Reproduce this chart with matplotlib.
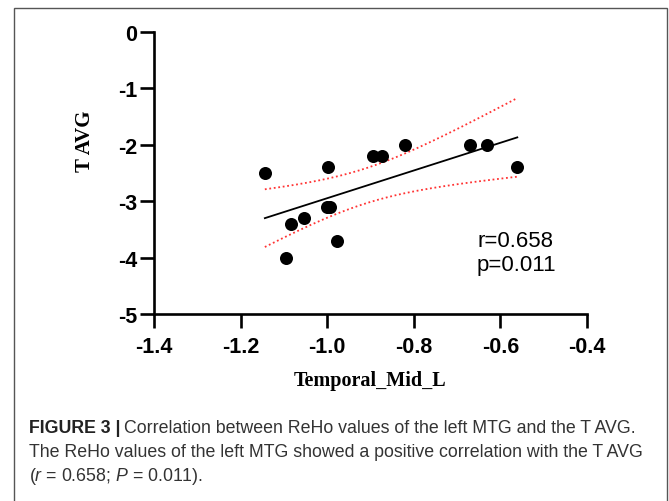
import numpy as np
import matplotlib
matplotlib.use("Agg")
import matplotlib.pyplot as plt
from matplotlib.patches import Rectangle

# ---- data ----
temporal_mid_l = [-1.144, -1.094, -1.084, -1.053, -1.001, -0.999, -0.993,
                  -0.977, -0.895, -0.874, -0.820, -0.670, -0.632, -0.561]
t_avg = [-2.5, -4.0, -3.4, -3.3, -3.1, -2.4, -3.1,
         -3.7, -2.2, -2.2, -2.0, -2.0, -2.0, -2.4]
x_ticks = [-1.4, -1.2, -1.0, -0.8, -0.6, -0.4]
x_ticklabels = ["-1.4", "-1.2", "-1.0", "-0.8", "-0.6", "-0.4"]
y_ticks = [0, -1, -2, -3, -4, -5]
y_ticklabels = ["0", "-1", "-2", "-3", "-4", "-5"]
stats_text = "r=0.658\np=0.011"
t_crit = 2.179  # two-sided 95%, df = 12

plt.rcParams['mathtext.fontset'] = 'custom'
plt.rcParams['mathtext.it'] = 'Liberation Sans:italic'
plt.rcParams['mathtext.rm'] = 'Liberation Sans'

W, H = 669, 502
fig = plt.figure(figsize=(W / 100, H / 100), dpi=100)

def fx(px):
    return px / W

def fy(py):
    return 1 - py / H

# frame around figure
fig.patches.append(Rectangle((fx(14), fy(505)), fx(667) - fx(14), fy(9) - fy(505),
                             transform=fig.transFigure, fill=False,
                             edgecolor='#555555', linewidth=1.0))

ax = fig.add_axes([fx(154), fy(315), fx(587) - fx(154), fy(33) - fy(315)])

x = np.array(temporal_mid_l)
y = np.array(t_avg)
n = len(x)
slope, intercept = np.polyfit(x, y, 1)
xs = np.linspace(x.min(), x.max(), 200)
ys = slope * xs + intercept
resid = y - (slope * x + intercept)
s = np.sqrt(np.sum(resid ** 2) / (n - 2))
se = s * np.sqrt(1.0 / n + (xs - x.mean()) ** 2 / np.sum((x - x.mean()) ** 2))

ax.plot(xs, ys, color='black', linewidth=1.3, zorder=2)
ax.plot(xs, ys + t_crit * se, color='#ff3333', linestyle=(0, (1, 1.5)), linewidth=1.3, zorder=2)
ax.plot(xs, ys - t_crit * se, color='#ff3333', linestyle=(0, (1, 1.5)), linewidth=1.3, zorder=2)
ax.scatter(x, y, s=88, color='black', zorder=3, linewidths=0)

ax.set_xlim(-1.4, -0.4)
ax.set_ylim(-5, 0)
ax.set_xticks(x_ticks)
ax.set_xticklabels(x_ticklabels)
ax.set_yticks(y_ticks)
ax.set_yticklabels(y_ticklabels)
for sp in ['top', 'right']:
    ax.spines[sp].set_visible(False)
for sp in ['left', 'bottom']:
    ax.spines[sp].set_linewidth(1.9)
ax.tick_params(axis='both', length=10, width=1.9, labelsize=15.5)
ax.tick_params(axis='x', pad=6)
ax.tick_params(axis='y', pad=2)
for lab in ax.get_xticklabels() + ax.get_yticklabels():
    lab.set_fontfamily('Liberation Sans')
    lab.set_fontweight('bold')

ax.text(-0.654, -3.91, stats_text, fontsize=16, family='Liberation Sans',
        ha='left', va='center', linespacing=1.15)

fig.text(fx(370), fy(381), "Temporal_Mid_L", family='Liberation Serif',
         fontweight='bold', fontsize=14.5, ha='center', va='center')
fig.text(fx(85), fy(141), "T AVG", family='Liberation Serif',
         fontweight='bold', fontsize=15, ha='center', va='center', rotation=90)

# caption
cap_fs = 12.8
fig.canvas.draw()
r = fig.canvas.get_renderer()
t1 = fig.text(fx(29), fy(429), "FIGURE 3 |", family='Liberation Sans', fontweight='bold',
              fontsize=cap_fs, color='#222222', ha='left', va='center')
bb = t1.get_window_extent(renderer=r)
fig.text(bb.x1 / W + fx(4), fy(429), "Correlation between ReHo values of the left MTG and the T AVG.",
         family='Liberation Sans', fontsize=cap_fs, color='#333333', ha='left', va='center')
fig.text(fx(29), fy(453), "The ReHo values of the left MTG showed a positive correlation with the T AVG",
         family='Liberation Sans', fontsize=cap_fs, color='#333333', ha='left', va='center')
fig.text(fx(29), fy(477), r"($r$ = 0.658; $P$ = 0.011).",
         family='Liberation Sans', fontsize=cap_fs, color='#333333', ha='left', va='center')

fig.savefig("out.png", dpi=100)
